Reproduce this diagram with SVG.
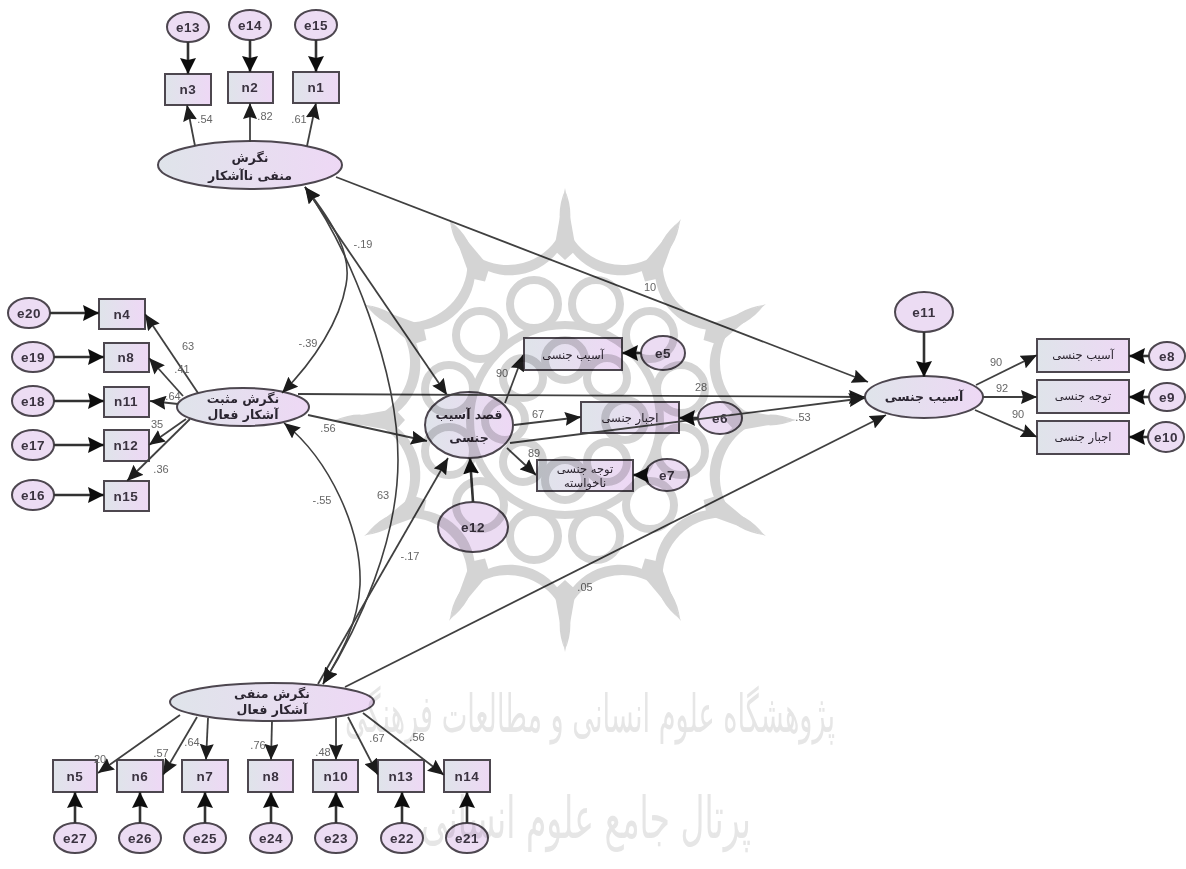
<svg xmlns="http://www.w3.org/2000/svg" xmlns:xlink="http://www.w3.org/1999/xlink" width="1186" height="869" viewBox="0 0 1186 869">
<style>
.n{fill:url(#g);stroke:#4d4650;stroke-width:2}
.e{fill:#ecdcf3;stroke:#4d4650;stroke-width:2}
.t{font-family:"Liberation Sans",Arial,sans-serif;font-weight:bold;font-size:13.5px;fill:#3a3340;text-anchor:middle;letter-spacing:.5px}
.f{font-family:"DejaVu Sans",sans-serif;font-weight:bold;font-size:12.5px;fill:#2c2530;text-anchor:middle}
.s{font-family:"DejaVu Sans",sans-serif;font-size:11.5px;fill:#2c2530;text-anchor:middle}
.c{font-family:"Liberation Sans",Arial,sans-serif;font-size:11px;fill:#666;text-anchor:middle}
.h{fill:none;stroke:#333;stroke-width:2.6;marker-end:url(#a)}
.l{fill:none;stroke:#404040;stroke-width:1.8;marker-end:url(#b)}
.m{fill:none;stroke:#404040;stroke-width:1.6;marker-start:url(#b2);marker-end:url(#b)}
.w{fill:none;stroke:#d4d4d4;stroke-width:8}
.wt{font-family:"DejaVu Sans",sans-serif;fill:#e6e6e6;text-anchor:middle}
</style>
<defs>
<linearGradient id="g" x1="0" y1="0" x2="1" y2="0"><stop offset="0" stop-color="#dfe4ea"/><stop offset="1" stop-color="#eed8f5"/></linearGradient>
<marker id="a" markerUnits="userSpaceOnUse" markerWidth="17" markerHeight="16" refX="16" refY="8" orient="auto"><path d="M0 0L16 8L0 16L2 8Z" fill="#111"/></marker>
<marker id="b" markerUnits="userSpaceOnUse" markerWidth="17" markerHeight="14" refX="16" refY="7" orient="auto"><path d="M0 0L16 7L0 14L2 7Z" fill="#1a1a1a"/></marker>
<marker id="b2" markerUnits="userSpaceOnUse" markerWidth="17" markerHeight="14" refX="16" refY="7" orient="auto-start-reverse"><path d="M0 0L16 7L0 14L2 7Z" fill="#1a1a1a"/></marker>
<path id="petal" d="M-59.5 -222A59.5 59.5 0 0 0 59.5 -222A60.3 60.3 0 1 1 -59.5 -222Z" fill="#d4d4d4"/>
<path id="spike" d="M0 -232L11 -170L0 -160L-11 -170Z" fill="#d4d4d4"/>
<filter id="soft" x="0" y="0" width="100%" height="100%"><feGaussianBlur stdDeviation="0.55"/></filter>
</defs>
<g filter="url(#soft)">
<rect width="1186" height="869" fill="#fff"/>
<g id="nodes">
<g id="e13"><ellipse class="e" cx="188" cy="27" rx="21" ry="15"/><text class="t" x="188" y="32">e13</text></g>
<g id="e14"><ellipse class="e" cx="250" cy="25" rx="21" ry="15"/><text class="t" x="250" y="30">e14</text></g>
<g id="e15"><ellipse class="e" cx="316" cy="25" rx="21" ry="15"/><text class="t" x="316" y="30">e15</text></g>
<g id="n3"><rect class="n" x="165" y="74" width="46" height="31"/><text class="t" x="188" y="94">n3</text></g>
<g id="n2"><rect class="n" x="228" y="72" width="45" height="31"/><text class="t" x="250" y="92">n2</text></g>
<g id="n1"><rect class="n" x="293" y="72" width="46" height="31"/><text class="t" x="316" y="92">n1</text></g>
<g id="L1"><ellipse class="n" cx="250" cy="165" rx="92" ry="24"/><text class="f" x="250" y="162">نگرش</text><text class="f" x="250" y="180">منفی ناآشکار</text></g>
<g id="e20"><ellipse class="e" cx="29" cy="313" rx="21" ry="15"/><text class="t" x="29" y="318">e20</text></g>
<g id="e19"><ellipse class="e" cx="33" cy="357" rx="21" ry="15"/><text class="t" x="33" y="362">e19</text></g>
<g id="e18"><ellipse class="e" cx="33" cy="401" rx="21" ry="15"/><text class="t" x="33" y="406">e18</text></g>
<g id="e17"><ellipse class="e" cx="33" cy="445" rx="21" ry="15"/><text class="t" x="33" y="450">e17</text></g>
<g id="e16"><ellipse class="e" cx="33" cy="495" rx="21" ry="15"/><text class="t" x="33" y="500">e16</text></g>
<g id="n4"><rect class="n" x="99" y="299" width="46" height="30"/><text class="t" x="122" y="319">n4</text></g>
<g id="n8a"><rect class="n" x="104" y="343" width="45" height="29"/><text class="t" x="126" y="362">n8</text></g>
<g id="n11"><rect class="n" x="104" y="387" width="45" height="30"/><text class="t" x="126" y="406">n11</text></g>
<g id="n12"><rect class="n" x="104" y="430" width="45" height="31"/><text class="t" x="126" y="450">n12</text></g>
<g id="n15"><rect class="n" x="104" y="481" width="45" height="30"/><text class="t" x="126" y="501">n15</text></g>
<g id="L2"><ellipse class="n" cx="243" cy="407" rx="66" ry="19"/><text class="f" x="243" y="403">نگرش مثبت</text><text class="f" x="243" y="419">آشکار فعال</text></g>
<g id="Q"><ellipse class="n" cx="469" cy="425" rx="44" ry="33"/><text class="f" x="469" y="419">قصد آسیب</text><text class="f" x="469" y="442">جنسی</text></g>
<g id="b1"><rect class="n" x="524" y="338" width="98" height="32"/><text class="s" x="573" y="359">آسیب جنسی</text></g>
<g id="b2n"><rect class="n" x="581" y="402" width="98" height="31"/><text class="s" x="630" y="422">اجبار جنسی</text></g>
<g id="b3"><rect class="n" x="537" y="460" width="96" height="31"/><text class="s" x="585" y="473">توجه جنسی</text><text class="s" x="585" y="487">ناخواسته</text></g>
<g id="e5"><ellipse class="e" cx="663" cy="353" rx="22" ry="17"/><text class="t" x="663" y="358">e5</text></g>
<g id="e6"><ellipse class="e" cx="720" cy="418" rx="22" ry="16"/><text class="t" x="720" y="423">e6</text></g>
<g id="e7"><ellipse class="e" cx="667" cy="475" rx="22" ry="16"/><text class="t" x="667" y="480">e7</text></g>
<g id="e12"><ellipse class="e" cx="473" cy="527" rx="35" ry="25"/><text class="t" x="473" y="532">e12</text></g>
<g id="e11"><ellipse class="e" cx="924" cy="312" rx="29" ry="20"/><text class="t" x="924" y="317">e11</text></g>
<g id="R"><ellipse class="n" cx="924" cy="397" rx="59" ry="21"/><text class="f" x="924" y="401">آسیب جنسی</text></g>
<g id="r1"><rect class="n" x="1037" y="339" width="92" height="33"/><text class="s" x="1083" y="359">آسیب جنسی</text></g>
<g id="r2"><rect class="n" x="1037" y="380" width="92" height="33"/><text class="s" x="1083" y="400">توجه جنسی</text></g>
<g id="r3"><rect class="n" x="1037" y="421" width="92" height="33"/><text class="s" x="1083" y="441">اجبار جنسی</text></g>
<g id="e8"><ellipse class="e" cx="1167" cy="356" rx="18" ry="14"/><text class="t" x="1167" y="361">e8</text></g>
<g id="e9"><ellipse class="e" cx="1167" cy="397" rx="18" ry="14"/><text class="t" x="1167" y="402">e9</text></g>
<g id="e10"><ellipse class="e" cx="1166" cy="437" rx="18" ry="15"/><text class="t" x="1166" y="442">e10</text></g>
<g id="L3"><ellipse class="n" cx="272" cy="702" rx="102" ry="19"/><text class="f" x="272" y="698">نگرش منفی</text><text class="f" x="272" y="714">آشکار فعال</text></g>
<g id="n5"><rect class="n" x="53" y="760" width="44" height="32"/><text class="t" x="75" y="781">n5</text></g>
<g id="n6"><rect class="n" x="117" y="760" width="46" height="32"/><text class="t" x="140" y="781">n6</text></g>
<g id="n7"><rect class="n" x="182" y="760" width="46" height="32"/><text class="t" x="205" y="781">n7</text></g>
<g id="n8"><rect class="n" x="248" y="760" width="45" height="32"/><text class="t" x="271" y="781">n8</text></g>
<g id="n10"><rect class="n" x="313" y="760" width="45" height="32"/><text class="t" x="336" y="781">n10</text></g>
<g id="n13"><rect class="n" x="378" y="760" width="46" height="32"/><text class="t" x="401" y="781">n13</text></g>
<g id="n14"><rect class="n" x="444" y="760" width="46" height="32"/><text class="t" x="467" y="781">n14</text></g>
<g id="e27"><ellipse class="e" cx="75" cy="838" rx="21" ry="15"/><text class="t" x="75" y="843">e27</text></g>
<g id="e26"><ellipse class="e" cx="140" cy="838" rx="21" ry="15"/><text class="t" x="140" y="843">e26</text></g>
<g id="e25"><ellipse class="e" cx="205" cy="838" rx="21" ry="15"/><text class="t" x="205" y="843">e25</text></g>
<g id="e24"><ellipse class="e" cx="271" cy="838" rx="21" ry="15"/><text class="t" x="271" y="843">e24</text></g>
<g id="e23"><ellipse class="e" cx="336" cy="838" rx="21" ry="15"/><text class="t" x="336" y="843">e23</text></g>
<g id="e22"><ellipse class="e" cx="402" cy="838" rx="21" ry="15"/><text class="t" x="402" y="843">e22</text></g>
<g id="e21"><ellipse class="e" cx="467" cy="838" rx="21" ry="15"/><text class="t" x="467" y="843">e21</text></g>
</g>
<g id="connectors">
<path class="h" d="M188 42V74"/><path class="h" d="M250 40V72"/><path class="h" d="M316 40V72"/>
<path class="l" d="M195 146L187 105"/><path class="l" d="M250 142V103"/><path class="l" d="M307 146L316 103"/>
<path class="h" d="M50 313H99"/><path class="h" d="M54 357H104"/><path class="h" d="M54 401H104"/><path class="h" d="M54 445H104"/><path class="h" d="M54 495H104"/>
<path class="l" d="M198 393L145 314"/><path class="l" d="M183 396L149 358"/><path class="l" d="M178 404L150 401"/><path class="l" d="M186 419L149 445"/><path class="l" d="M190 419L127 481"/>
<path class="l" d="M305 187L447 395"/>
<path class="l" d="M336 177L868 382"/>
<path class="l" d="M298 394L865 397"/>
<path class="l" d="M510 443L865 398"/>
<path class="l" d="M308 415L427 441"/>
<path class="l" d="M318 684L448 458"/>
<path class="l" d="M345 687L886 415"/>
<path class="h" d="M473 502L470 458"/>
<path class="l" d="M505 403L523 355"/><path class="l" d="M514 425L581 417"/><path class="l" d="M507 448L536 475"/>
<path class="h" d="M641 353H622"/><path class="h" d="M698 418H679"/><path class="h" d="M645 475H633"/>
<path class="h" d="M924 332V377"/>
<path class="l" d="M976 385L1037 355"/><path class="l" d="M983 397H1037"/><path class="l" d="M975 410L1037 437"/>
<path class="h" d="M1149 356H1129"/><path class="h" d="M1149 397H1129"/><path class="h" d="M1148 437H1129"/>
<path class="m" d="M305 187C335 225 352 255 346 285C340 320 315 360 282 393"/>
<path class="m" d="M305 187C350 250 398 370 398 460C398 540 360 625 323 684"/>
<path class="m" d="M284 423C330 460 362 530 360 585C358 625 340 655 323 684"/>
<path class="l" d="M180 715L98 773"/><path class="l" d="M197 717L163 775"/><path class="l" d="M208 718L206 760"/><path class="l" d="M272 721L271 760"/><path class="l" d="M336 718V760"/><path class="l" d="M348 717L378 775"/><path class="l" d="M363 713L444 775"/>
<path class="h" d="M75 823V792"/><path class="h" d="M140 823V792"/><path class="h" d="M205 823V792"/><path class="h" d="M271 823V792"/><path class="h" d="M336 823V792"/><path class="h" d="M402 823V792"/><path class="h" d="M467 823V792"/>
</g>
<g id="coefficients">
<text class="c" x="205" y="123">.54</text><text class="c" x="265" y="120">.82</text><text class="c" x="299" y="123">.61</text>
<text class="c" x="363" y="248">-.19</text><text class="c" x="650" y="291">10</text>
<text class="c" x="188" y="350">63</text><text class="c" x="182" y="373">.41</text><text class="c" x="173" y="400">.64</text><text class="c" x="157" y="428">35</text><text class="c" x="161" y="473">.36</text>
<text class="c" x="308" y="347">-.39</text><text class="c" x="328" y="432">.56</text><text class="c" x="322" y="504">-.55</text><text class="c" x="383" y="499">63</text><text class="c" x="410" y="560">-.17</text>
<text class="c" x="701" y="391">28</text><text class="c" x="803" y="421">.53</text><text class="c" x="502" y="377">90</text><text class="c" x="538" y="418">67</text><text class="c" x="534" y="457">89</text><text class="c" x="585" y="591">.05</text>
<text class="c" x="996" y="366">90</text><text class="c" x="1002" y="392">92</text><text class="c" x="1018" y="418">90</text>
<text class="c" x="100" y="763">20</text><text class="c" x="161" y="757">.57</text><text class="c" x="192" y="746">.64</text><text class="c" x="258" y="749">.76</text><text class="c" x="323" y="756">.48</text><text class="c" x="377" y="742">.67</text><text class="c" x="417" y="741">.56</text>
</g>
<g id="watermark" style="mix-blend-mode:multiply">
<g transform="translate(565 420)">
<use xlink:href="#petal" href="#petal" transform="rotate(15)"/><use xlink:href="#petal" href="#petal" transform="rotate(45)"/><use xlink:href="#petal" href="#petal" transform="rotate(75)"/><use xlink:href="#petal" href="#petal" transform="rotate(105)"/><use xlink:href="#petal" href="#petal" transform="rotate(135)"/><use xlink:href="#petal" href="#petal" transform="rotate(165)"/><use xlink:href="#petal" href="#petal" transform="rotate(195)"/><use xlink:href="#petal" href="#petal" transform="rotate(225)"/><use xlink:href="#petal" href="#petal" transform="rotate(255)"/><use xlink:href="#petal" href="#petal" transform="rotate(285)"/><use xlink:href="#petal" href="#petal" transform="rotate(315)"/><use xlink:href="#petal" href="#petal" transform="rotate(345)"/>
<use xlink:href="#spike" href="#spike"/><use xlink:href="#spike" href="#spike" transform="rotate(30)"/><use xlink:href="#spike" href="#spike" transform="rotate(60)"/><use xlink:href="#spike" href="#spike" transform="rotate(90)"/><use xlink:href="#spike" href="#spike" transform="rotate(120)"/><use xlink:href="#spike" href="#spike" transform="rotate(150)"/><use xlink:href="#spike" href="#spike" transform="rotate(180)"/><use xlink:href="#spike" href="#spike" transform="rotate(210)"/><use xlink:href="#spike" href="#spike" transform="rotate(240)"/><use xlink:href="#spike" href="#spike" transform="rotate(270)"/><use xlink:href="#spike" href="#spike" transform="rotate(300)"/><use xlink:href="#spike" href="#spike" transform="rotate(330)"/>
<path class="w" d="M-8 -152V-128M8 -152V-128" style="display:none"/>
<circle class="w" cx="31" cy="-116" r="24"/><circle class="w" cx="-31" cy="-116" r="24"/><circle class="w" cx="85" cy="-85" r="24"/><circle class="w" cx="-85" cy="-85" r="24"/><circle class="w" cx="116" cy="-31" r="24"/><circle class="w" cx="-116" cy="-31" r="24"/><circle class="w" cx="116" cy="31" r="24"/><circle class="w" cx="-116" cy="31" r="24"/><circle class="w" cx="85" cy="85" r="24"/><circle class="w" cx="-85" cy="85" r="24"/><circle class="w" cx="31" cy="116" r="24"/><circle class="w" cx="-31" cy="116" r="24"/>
<circle class="w" cx="0" cy="0" r="95"/>
<circle class="w" cx="0" cy="-60" r="20"/><circle class="w" cx="0" cy="60" r="20"/><circle class="w" cx="60" cy="0" r="20"/><circle class="w" cx="-60" cy="0" r="20"/><circle class="w" cx="42" cy="-42" r="20"/><circle class="w" cx="-42" cy="-42" r="20"/><circle class="w" cx="42" cy="42" r="20"/><circle class="w" cx="-42" cy="42" r="20"/>
</g>
</g>
<g id="calligraphy" style="mix-blend-mode:multiply">
<text class="wt" x="590" y="732" font-size="52" textLength="490" lengthAdjust="spacingAndGlyphs">پژوهشگاه علوم انسانی و مطالعات فرهنگی</text>
<text class="wt" x="586" y="838" font-size="58" textLength="330" lengthAdjust="spacingAndGlyphs">پرتال جامع علوم انسانی</text>
</g>
</g>
</svg>
